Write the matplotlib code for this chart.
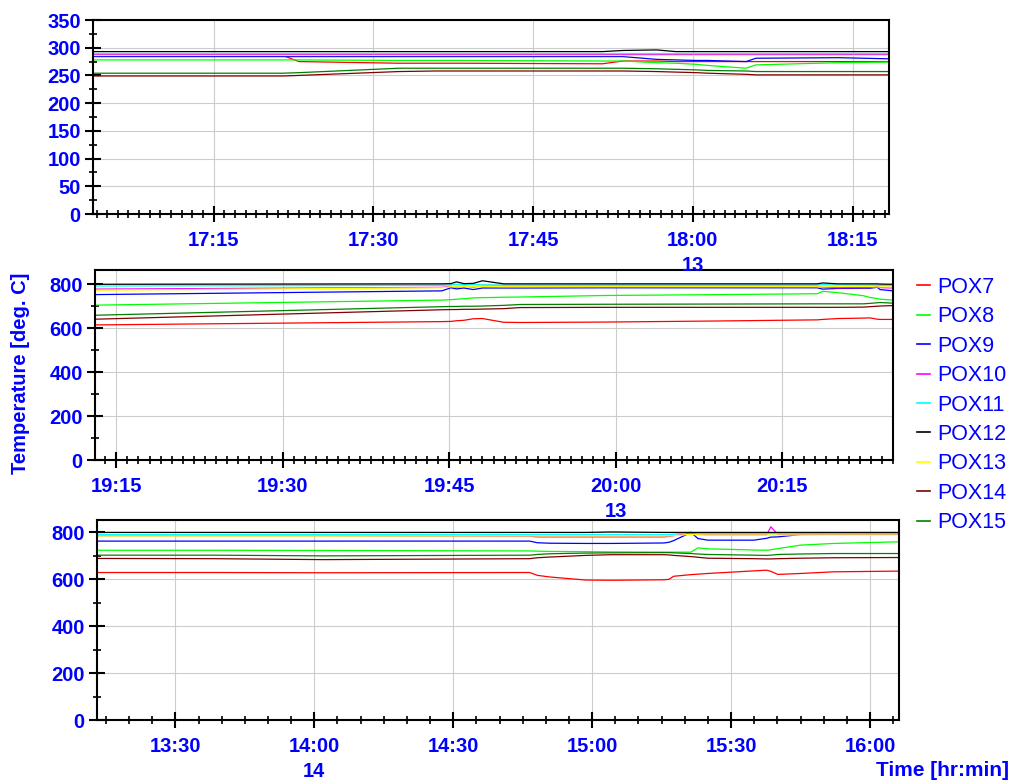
import matplotlib
matplotlib.use('Agg')
import matplotlib.pyplot as plt
import matplotlib.dates as mdates
import pandas as pd
from matplotlib.ticker import MultipleLocator, FuncFormatter
from matplotlib.lines import Line2D

plt.rcParams['font.family'] = ['Liberation Sans', 'DejaVu Sans']
plt.rcParams['font.weight'] = 'bold'

BLUE = '#0000ff'

series_names = ['POX7', 'POX8', 'POX9', 'POX10', 'POX11', 'POX12', 'POX13', 'POX14', 'POX15']
series_colors = ['#ff0000', '#00ff00', '#0000ff', '#ff00ff', '#00ffff',
                 '#000000', '#ffff00', '#800000', '#008000']

# ---- panel 1 : 13th, 17:04 - 18:18 ----
top_day = '2000-01-13'
top_times = ['17:03:40', '17:21:30', '17:23:00', '17:32:25', '17:35:50', '17:38:25',
             '17:51:30', '17:53:25', '17:56:35', '17:58:25', '18:00:20', '18:01:25',
             '18:05:00', '18:05:55', '18:13:40', '18:18:25']
top_values = {
    'POX7':  [287, 286, 275, 272, 272, 272, 271, 276, 276, 275, 275, 275, 275, 275, 275, 275],
    'POX8':  [278, 278, 278, 277, 277, 277, 276, 276, 273, 272, 270, 268, 263, 269, 273, 274],
    'POX9':  [284, 284, 284, 284, 284, 284, 284, 284, 279, 278, 277, 277, 275, 281, 282, 280],
    'POX10': [289, 289, 289, 289, 289, 289, 289, 289, 289, 289, 289, 289, 289, 289, 289, 289],
    'POX11': [291, 291, 291, 291, 291, 291, 291, 291, 291, 291, 291, 291, 291, 291, 291, 291],
    'POX12': [293, 293, 293, 293, 293, 293, 293, 295, 296, 293, 293, 293, 293, 293, 293, 293],
    'POX13': [287, 287, 287, 287, 287, 287, 287, 287, 287, 287, 287, 287, 287, 287, 287, 287],
    'POX14': [249, 249, 250, 257, 258, 258, 258, 258, 257, 256, 255, 254, 252, 251, 251, 251],
    'POX15': [254, 254, 255, 263, 263, 263, 263, 263, 262, 261, 260, 259, 258, 257, 257, 257],
}

# ---- panel 2 : 13th, 19:13 - 20:25 ----
mid_day = '2000-01-13'
mid_times = ['19:13:05', '19:44:20', '19:45:10', '19:45:40', '19:46:20', '19:47:10',
             '19:48:00', '19:49:55', '19:51:25', '19:59:05', '20:09:25', '20:18:10',
             '20:18:40', '20:20:00', '20:22:20', '20:22:55', '20:23:35', '20:23:50',
             '20:25:00']
mid_values = {
    'POX7':  [615, 630, 631, 634, 636, 643, 644, 627, 626, 628, 633, 638, 640, 644, 646, 647, 641, 640, 640],
    'POX8':  [705, 728, 730, 732, 734, 738, 739, 741, 742, 749, 753, 757, 768, 762, 748, 740, 735, 732, 728],
    'POX9':  [753, 770, 784, 779, 783, 776, 783, 783, 783, 784, 784, 784, 778, 781, 782, 782, 786, 776, 770],
    'POX10': [778, 786, 790, 788, 791, 788, 791, 791, 791, 791, 791, 791, 786, 784, 785, 785, 790, 785, 783],
    'POX11': [792, 795, 797, 800, 798, 800, 797, 796, 796, 796, 796, 796, 798, 797, 796, 796, 796, 795, 794],
    'POX12': [800, 802, 803, 811, 803, 804, 816, 802, 802, 802, 802, 802, 806, 802, 802, 802, 802, 801, 800],
    'POX13': [773, 784, 789, 790, 790, 790, 790, 789, 789, 789, 789, 789, 788, 790, 790, 790, 788, 788, 788],
    'POX14': [641, 684, 685, 685, 686, 686, 687, 689, 694, 695, 695, 695, 695, 695, 696, 698, 700, 701, 703],
    'POX15': [659, 698, 699, 699, 700, 700, 701, 704, 708, 709, 710, 711, 711, 711, 711, 713, 716, 717, 714],
}

# ---- panel 3 : 14th, 13:13 - 16:06 ----
bot_day = '2000-01-14'
bot_times = ['13:13:05', '13:38:35', '14:01:50', '14:46:30', '14:48:10', '14:50:50',
             '14:58:35', '15:04:10', '15:15:30', '15:16:35', '15:17:35', '15:21:20',
             '15:22:50', '15:25:00', '15:34:55', '15:37:40', '15:38:35', '15:40:05',
             '15:45:05', '15:52:10', '16:06:15']
bot_values = {
    'POX7':  [629, 629, 628, 629, 617, 610, 597, 596, 598, 600, 613, 620, 622, 625, 636, 639, 634, 621, 625, 632, 635],
    'POX8':  [724, 724, 723, 721, 720, 719, 718, 717, 716, 716, 716, 716, 734, 730, 725, 724, 726, 731, 746, 753, 760],
    'POX9':  [763, 763, 763, 763, 756, 754, 753, 753, 755, 758, 765, 800, 774, 767, 767, 775, 780, 781, 791, 792, 792],
    'POX10': [786, 786, 786, 784, 781, 781, 781, 781, 781, 783, 786, 797, 792, 790, 790, 790, 824, 792, 792, 792, 792],
    'POX11': [791, 791, 791, 791, 791, 791, 791, 791, 791, 791, 792, 801, 796, 795, 795, 795, 795, 795, 795, 795, 795],
    'POX12': [800, 800, 800, 800, 800, 800, 800, 802, 800, 800, 800, 800, 800, 800, 800, 800, 800, 800, 800, 800, 800],
    'POX13': [785, 785, 785, 785, 785, 785, 785, 785, 785, 785, 786, 792, 790, 789, 789, 789, 789, 789, 789, 789, 789],
    'POX14': [689, 688, 684, 688, 692, 695, 702, 705, 705, 704, 702, 697, 694, 690, 688, 687, 687, 688, 690, 692, 693],
    'POX15': [703, 703, 700, 703, 706, 709, 712, 713, 714, 714, 713, 710, 708, 706, 703, 702, 703, 706, 708, 710, 710],
}

panels = [
    # day, times, values, x range, ymax, y major, y minor, x major minutes, x minor minutes, day-label tick, axes rect
    (top_day, top_times, top_values, ('17:03:40', '18:18:25'), 350, 50, 25,
     [0, 15, 30, 45], list(range(60)), '18:00', [93 / 1010, 1 - 214 / 780, 796 / 1010, 194 / 780]),
    (mid_day, mid_times, mid_values, ('19:13:05', '20:25:00'), 865, 200, 100,
     [0, 15, 30, 45], list(range(60)), '20:00', [95 / 1010, 1 - 460 / 780, 798 / 1010, 190 / 780]),
    (bot_day, bot_times, bot_values, ('13:13:05', '16:06:15'), 853, 200, 100,
     [0, 30], list(range(0, 60, 5)), '14:00', [97 / 1010, 1 - 720 / 780, 802 / 1010, 200 / 780]),
]


def time_formatter(day_tick):
    def fmt(x, pos):
        d = mdates.num2date(x)
        s = d.strftime('%H:%M')
        if s == day_tick:
            s += '\n%d' % d.day
        return s
    return FuncFormatter(fmt)


fig = plt.figure(figsize=(10.1, 7.8), dpi=100)
axes = []

for i, (day, times, values, xr, ymax, ymaj, ymin, xmaj, xmin, day_tick, rect) in enumerate(panels):
    ax = fig.add_axes(rect)
    # upper panels on top so their day number is not hidden by the panel below
    ax.set_zorder(len(panels) - i)
    t = pd.to_datetime([day + ' ' + s for s in times])
    for name, color in zip(series_names, series_colors):
        ax.plot(t, values[name], color=color, lw=0.9)

    ax.set_xlim(pd.Timestamp(day + ' ' + xr[0]), pd.Timestamp(day + ' ' + xr[1]))
    ax.set_ylim(0, ymax)
    ax.yaxis.set_major_locator(MultipleLocator(ymaj))
    ax.yaxis.set_minor_locator(MultipleLocator(ymin))
    ax.xaxis.set_major_locator(mdates.MinuteLocator(byminute=xmaj))
    ax.xaxis.set_minor_locator(mdates.MinuteLocator(byminute=xmin))
    ax.xaxis.set_major_formatter(time_formatter(day_tick))

    ax.set_axisbelow(True)
    ax.grid(True, which='major', color='#cccccc', lw=0.8)
    ax.tick_params(which='major', direction='inout', length=11.5, width=1.5,
                   labelsize=14.5, labelcolor=BLUE, pad=3)
    ax.tick_params(axis='x', which='major', pad=6.5)
    ax.tick_params(which='minor', direction='inout', length=6, width=1.2)
    for sp in ax.spines.values():
        sp.set_linewidth(1.5)
    axes.append(ax)

fig.text(21 / 1010, 1 - 373 / 780, 'Temperature [deg. C]', rotation=90, color=BLUE,
         fontsize=14.5, fontweight='bold', ha='center', va='center')
fig.text(1009 / 1010, 1 - 770 / 780, 'Time [hr:min]', color=BLUE,
         fontsize=15, fontweight='bold', ha='right', va='center')

handles = [Line2D([], [], color=c, lw=1.2) for c in series_colors]
fig.legend(handles, series_names, loc='upper left', bbox_to_anchor=(917 / 1010, 1 - 277 / 780),
           frameon=False, prop={'size': 15.5, 'weight': 'normal'}, labelcolor=BLUE,
           handlelength=0.62, handletextpad=0.3, labelspacing=0.39,
           borderaxespad=0, borderpad=0)

# wider gap between time and day number under the marked tick
fig.canvas.draw()
for ax in axes:
    for lbl in ax.get_xticklabels():
        lbl.set_linespacing(1.38)

fig.savefig('out.png', dpi=100)
